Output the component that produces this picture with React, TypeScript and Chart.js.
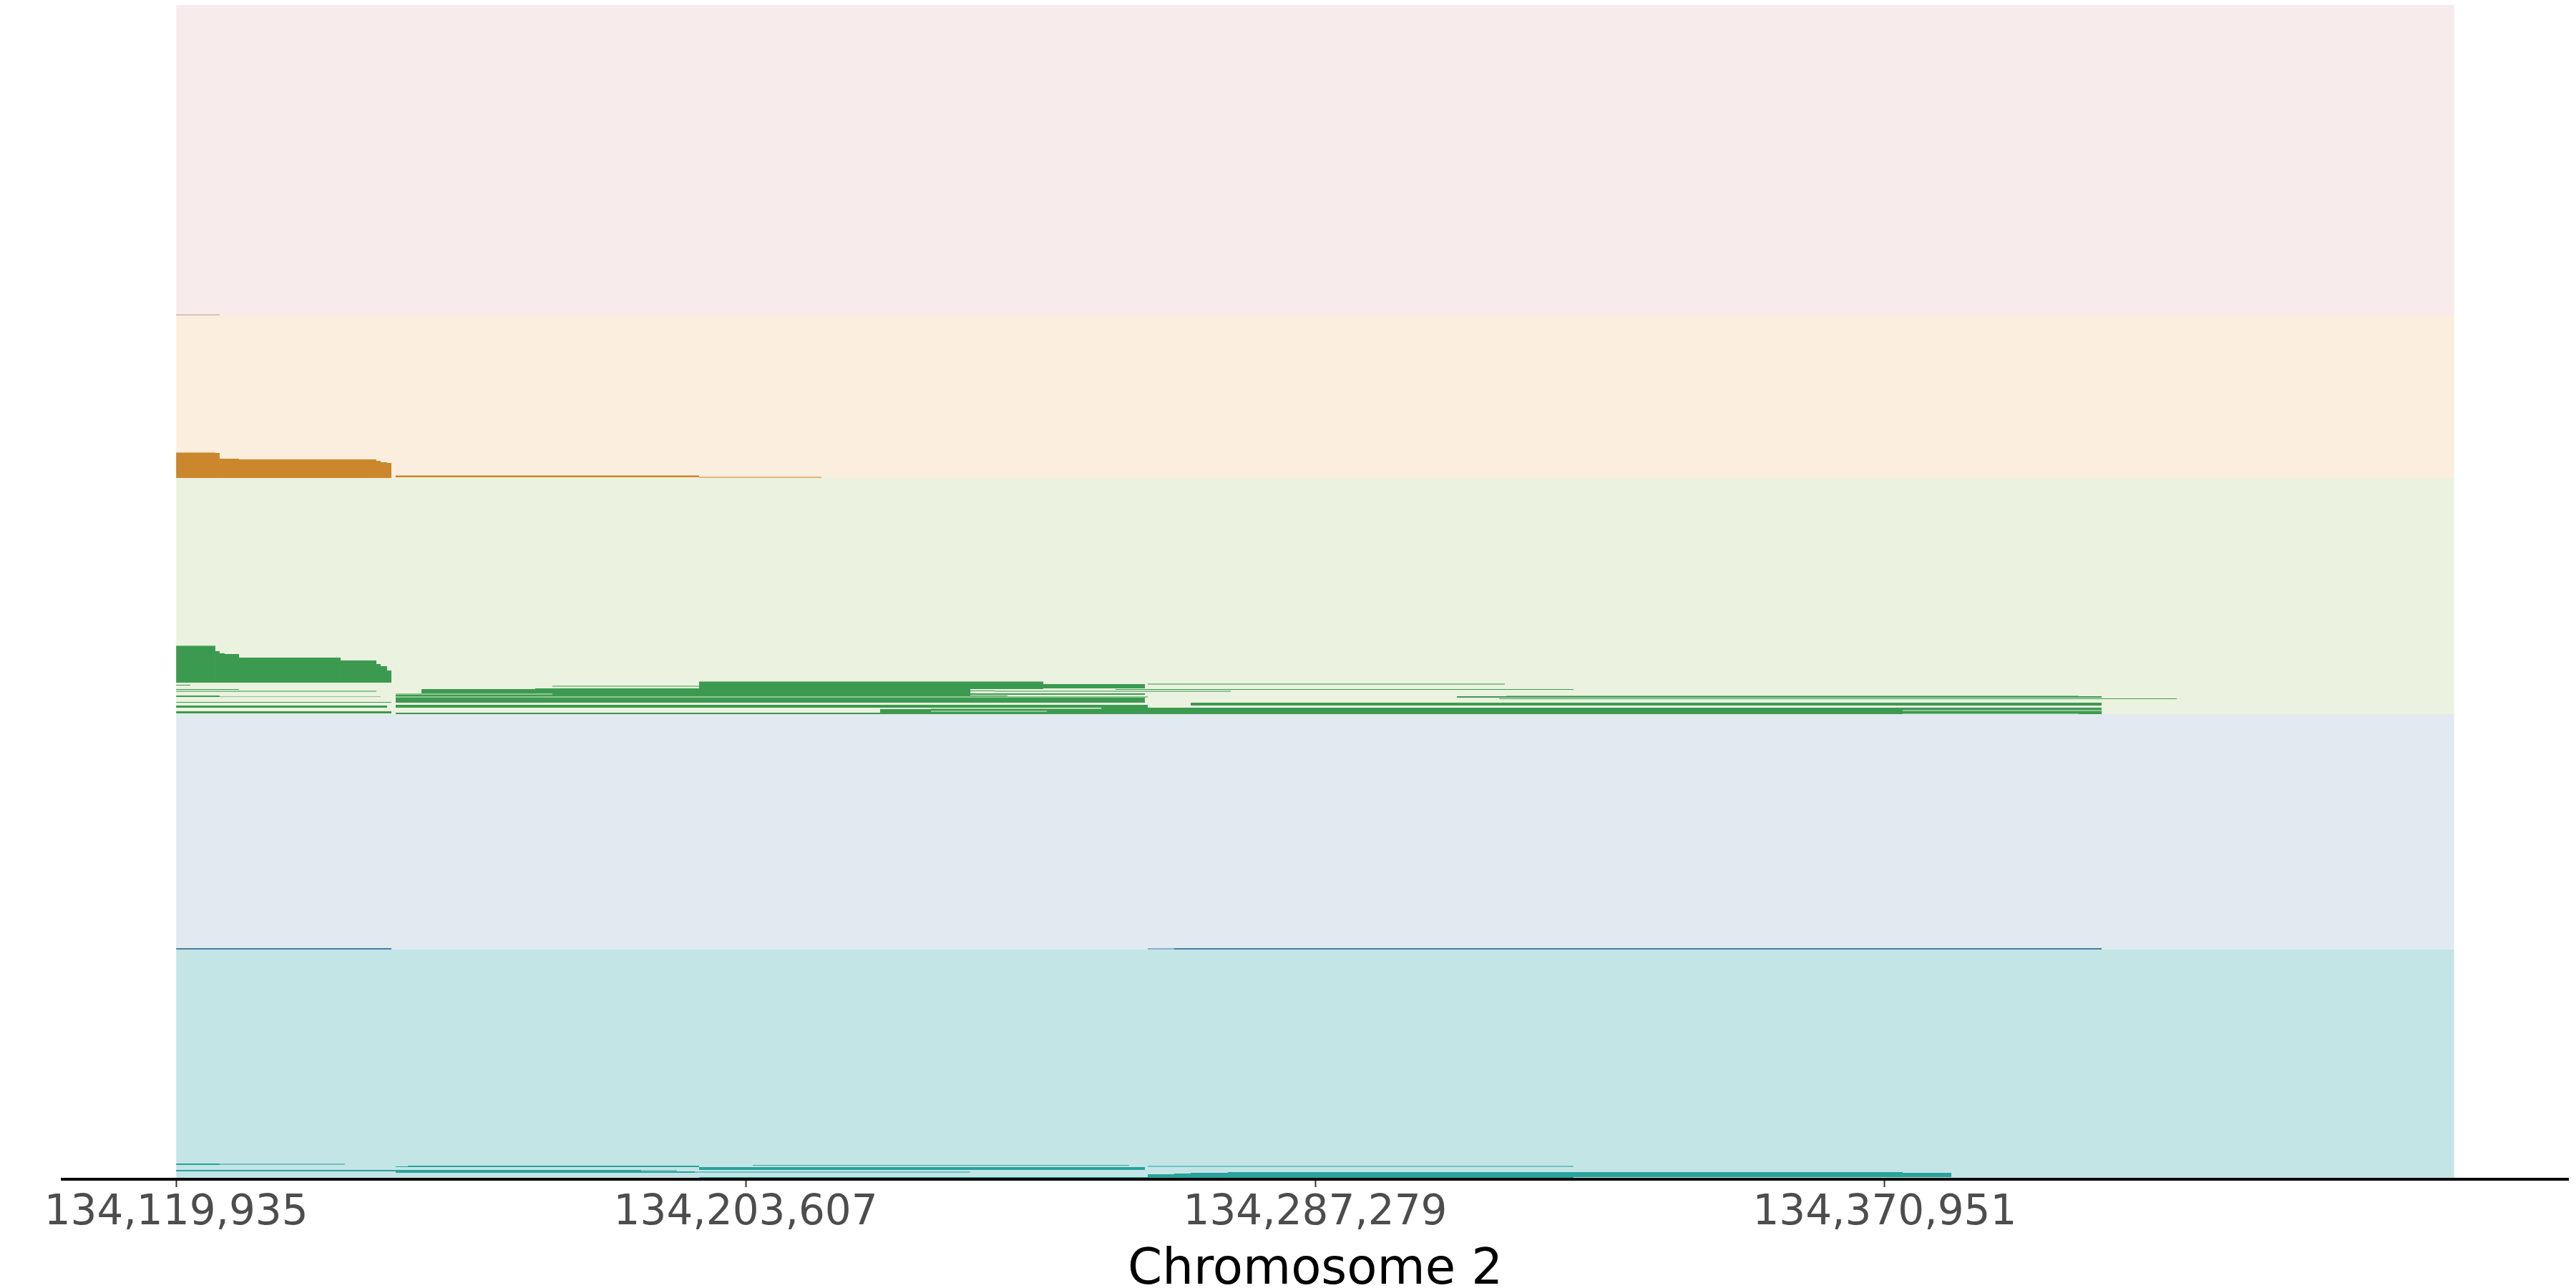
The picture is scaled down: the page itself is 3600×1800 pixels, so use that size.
import React, { useEffect, useRef } from 'react';
import { Chart, registerables } from 'chart.js';

Chart.register(...registerables);

// ---------- axis ----------
const X_MIN = 134103201;
const X_MAX = 134471357;
const REGION_START = 134119935;
const REGION_END = 134454623;
const TICK_VALUES = [134119935, 134203607, 134287279, 134370951];
const TICK_LABELS = ['134,119,935', '134,203,607', '134,287,279', '134,370,951'];
const AXIS_TITLE = 'Chromosome 2';

// ---------- tracks (rows, bottom to top) ----------
const TRACK_NAMES = ['teal', 'blue', 'green', 'orange', 'pink'];
const TRACK_BOTTOMS = [0, 319, 648, 978, 1205];
const TRACK_TOPS = [319, 648, 978, 1205, 1639];
const TRACK_BG = ['#c4e5e6', '#e1e9f1', '#ebf2df', '#fbeede', '#f7ebeb'];
const TRACK_DARK = ['#2aa29d', '#4a7fa3', '#3c9a50', '#cc872c', '#d9aaa5'];
const TRACK_LIGHT = ['#74c2c1', '#8fb0c8', '#8ec593', '#e0b879', '#e2bfbb'];

// reads: [start, end, row above track bottom, number of rows, tone]
type Read = [number, number, number, number, 'dark' | 'light'];

const tealReads: Read[] = [
  [134119935, 134126327, 18, 2, 'dark'],
  [134126327, 134144725, 18, 2, 'light'],
  [134152189, 134153976, 15, 1, 'dark'],
  [134153976, 134196764, 15, 2, 'dark'],
  [134262680, 134325233, 15, 2, 'light'],
  [134204649, 134215582, 17, 1, 'dark'],
  [134215582, 134259947, 17, 1, 'dark'],
  [134196764, 134262260, 11, 4, 'dark'],
  [134119935, 134188248, 9, 2, 'dark'],
  [134188248, 134193505, 9, 2, 'light'],
  [134152189, 134196133, 7, 2, 'dark'],
  [134196133, 134236608, 7, 2, 'light'],
  [134262680, 134266570, 1, 4, 'dark'],
  [134266570, 134268988, 1, 5, 'dark'],
  [134268988, 134274455, 1, 6, 'dark'],
  [134274455, 134373593, 1, 7, 'dark'],
  [134373593, 134380742, 1, 6, 'dark'],
  [134196764, 134325233, 0, 1, 'dark'],
];

const blueReads: Read[] = [
  [134119935, 134151558, 0, 2, 'dark'],
  [134262680, 134266570, 0, 2, 'light'],
  [134266570, 134402819, 0, 2, 'dark'],
];

const greenReads: Read[] = [
  [134119935, 134125696, 44, 51, 'dark'],
  [134119935, 134125696, 95, 1, 'light'],
  [134125696, 134126327, 44, 44, 'dark'],
  [134126327, 134127063, 44, 41, 'dark'],
  [134127063, 134129165, 44, 40, 'dark'],
  [134129165, 134144094, 44, 35, 'dark'],
  [134144094, 134149350, 44, 31, 'dark'],
  [134149350, 134149981, 44, 26, 'dark'],
  [134149981, 134150927, 44, 23, 'dark'],
  [134150927, 134151558, 44, 17, 'dark'],
  [134119935, 134122017, 40, 1, 'dark'],
  [134119935, 134129165, 34, 1, 'dark'],
  [134119935, 134149350, 31, 2, 'light'],
  [134119935, 134126327, 24, 2, 'dark'],
  [134126327, 134149981, 24, 1, 'light'],
  [134119935, 134151558, 16, 1, 'dark'],
  [134119935, 134150927, 9, 3, 'dark'],
  [134119935, 134151558, 1, 3, 'dark'],
  [134196764, 134247332, 42, 3, 'dark'],
  [134196764, 134247332, 45, 1, 'light'],
  [134196764, 134262260, 36, 6, 'dark'],
  [134175212, 134196764, 38, 2, 'light'],
  [134262680, 134315141, 41, 2, 'light'],
  [134172689, 134247332, 35, 1, 'dark'],
  [134257949, 134325233, 34, 1, 'dark'],
  [134155974, 134236608, 29, 6, 'dark'],
  [134240182, 134274875, 31, 2, 'light'],
  [134236608, 134240182, 32, 1, 'dark'],
  [134152189, 134236608, 25, 4, 'dark'],
  [134152189, 134175212, 27, 2, 'light'],
  [134236608, 134262260, 27, 2, 'dark'],
  [134236608, 134242075, 25, 1, 'dark'],
  [134152189, 134262680, 23, 2, 'light'],
  [134308097, 134402819, 23, 2, 'dark'],
  [134315351, 134399455, 25, 1, 'light'],
  [134314300, 134413857, 21, 1, 'dark'],
  [134152189, 134262260, 16, 7, 'dark'],
  [134268988, 134402819, 12, 4, 'dark'],
  [134152189, 134262680, 9, 4, 'dark'],
  [134152189, 134255847, 0, 2, 'dark'],
  [134223362, 134255847, 1, 6, 'dark'],
  [134255847, 134402819, 0, 9, 'dark'],
  [134373593, 134402819, 4, 2, 'light'],
  [134373593, 134399455, 0, 1, 'light'],
  [134230826, 134255847, 7, 1, 'light'],
  [134230826, 134247857, 3, 2, 'light'],
];

const orangeReads: Read[] = [
  [134119935, 134126327, 0, 35, 'dark'],
  [134119935, 134125696, 35, 1, 'light'],
  [134126327, 134129165, 0, 27, 'dark'],
  [134129165, 134149350, 0, 26, 'dark'],
  [134149350, 134149981, 0, 24, 'dark'],
  [134149981, 134150927, 0, 22, 'dark'],
  [134150927, 134151558, 0, 21, 'dark'],
  [134152189, 134196764, 1, 2, 'dark'],
  [134152189, 134196764, 3, 1, 'light'],
  [134196764, 134214741, 0, 2, 'light'],
];

const pinkReads: Read[] = [
  [134119935, 134126327, 0, 2, 'light'],
];

const TRACK_READS: Read[][] = [tealReads, blueReads, greenReads, orangeReads, pinkReads];

const FONT = "'DejaVu Sans', 'Liberation Sans', sans-serif";

export default function App() {
  const canvasRef = useRef<HTMLCanvasElement | null>(null);

  useEffect(() => {
    document.body.style.margin = '0';
    const canvas = canvasRef.current;
    if (!canvas) return;

    const bgDatasets: any[] = TRACK_NAMES.map((name, i) => ({
      type: 'line',
      label: name + ' track',
      indexAxis: 'x',
      data: [
        { x: REGION_START, y: TRACK_TOPS[i] },
        { x: REGION_END, y: TRACK_TOPS[i] },
      ],
      fill: { value: TRACK_BOTTOMS[i] },
      backgroundColor: TRACK_BG[i],
      borderColor: 'rgba(0,0,0,0)',
      borderWidth: 0,
      pointRadius: 0,
      tension: 0,
      order: 10,
    }));

    const barData: { x: [number, number]; y: number }[] = [];
    const barColors: string[] = [];
    TRACK_READS.forEach((reads, ti) => {
      reads.forEach(([s, e, row, n, tone]) => {
        for (let k = 0; k < n; k++) {
          barData.push({ x: [s, e], y: TRACK_BOTTOMS[ti] + row + k + 0.5 });
          barColors.push(tone === 'dark' ? TRACK_DARK[ti] : TRACK_LIGHT[ti]);
        }
      });
    });

    const chart = new Chart(canvas, {
      type: 'bar',
      data: {
        datasets: [
          ...bgDatasets,
          {
            type: 'bar',
            label: 'reads',
            indexAxis: 'y',
            data: barData as any,
            backgroundColor: barColors,
            borderWidth: 0,
            barPercentage: 1,
            categoryPercentage: 1,
            inflateAmount: 0,
            order: 0,
          } as any,
        ],
      },
      options: {
        responsive: false,
        animation: false,
        devicePixelRatio: 1,
        layout: { padding: { left: 87, right: 11, top: 7, bottom: 0 } },
        plugins: {
          legend: { display: false },
          tooltip: { enabled: false },
        },
        scales: {
          x: {
            type: 'linear',
            min: X_MIN,
            max: X_MAX,
            offset: false,
            afterBuildTicks: (scale: any) => {
              scale.ticks = TICK_VALUES.map((v) => ({ value: v }));
            },
            afterFit: (scale: any) => {
              scale.height = 152;
            },
            ticks: {
              autoSkip: false,
              maxRotation: 0,
              minRotation: 0,
              padding: 2,
              color: '#4d4d4d',
              font: { family: FONT, size: 58 },
              callback: (_v: any, i: number) => TICK_LABELS[i],
            },
            grid: {
              display: true,
              offset: false,
              drawOnChartArea: false,
              drawTicks: true,
              tickLength: 11,
              tickWidth: 2,
              tickColor: '#333333',
            },
            border: { display: true, color: '#000000', width: 4 },
            title: {
              display: true,
              text: AXIS_TITLE,
              color: '#000000',
              font: { family: FONT, size: 69, lineHeight: 0.68 },
              padding: 0,
            },
          },
          y: {
            type: 'linear',
            display: false,
            offset: false,
            grace: 0,
            grid: { offset: false },
            min: -2,
            max: 1639,
          },
        },
      } as any,
    });

    return () => chart.destroy();
  }, []);

  return (
    <div style={{ width: 3600, height: 1800 }}>
      <canvas ref={canvasRef} width={3600} height={1800} style={{ display: 'block', width: 3600, height: 1800 }} />
    </div>
  );
}
